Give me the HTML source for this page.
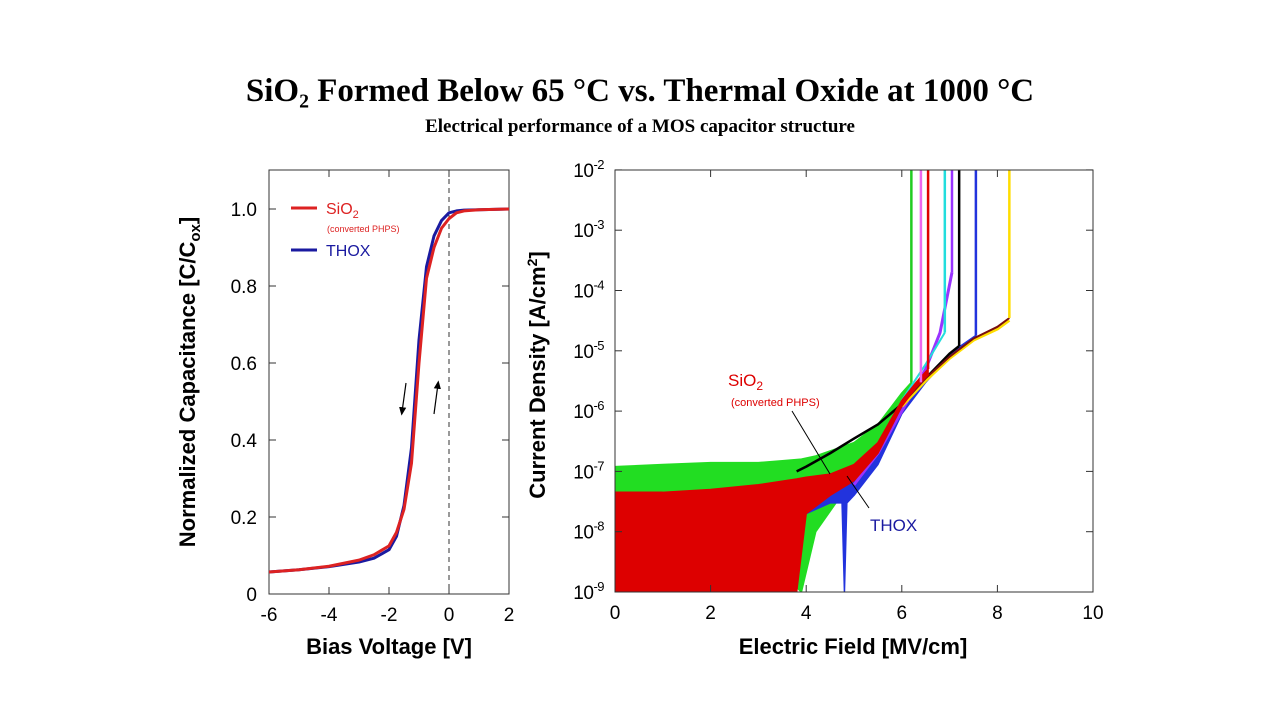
<!DOCTYPE html>
<html><head><meta charset="utf-8"><style>
body{margin:0;background:#fff;width:1280px;height:720px;overflow:hidden}
svg{display:block}
text{font-family:"Liberation Sans",Arial,sans-serif}
.serif{font-family:"Liberation Serif","Times New Roman",serif;font-weight:bold}
</style></head><body>
<svg id="s" width="1280" height="720" viewBox="0 0 1280 720">
<text class="serif" x="640" y="101" font-size="33" text-anchor="middle">SiO₂ Formed Below 65 °C vs. Thermal Oxide at 1000 °C</text>
<text class="serif" x="640" y="132" font-size="19" text-anchor="middle">Electrical performance of a MOS capacitor structure</text>
<g id="L"></g>
<g id="R"></g>
</svg>
<script>
// ---- C-V data ----
const cvVolt=[-6,-5,-4,-3,-2.5,-2,-1.75,-1.5,-1.25,-1,-0.75,-0.5,-0.25,0,0.25,0.5,1,2];
const cvSiO2=[0.057,0.063,0.072,0.088,0.102,0.125,0.16,0.22,0.34,0.6,0.82,0.9,0.95,0.975,0.99,0.995,0.998,1.0];
const cvThox=[0.057,0.063,0.071,0.083,0.093,0.115,0.15,0.23,0.38,0.66,0.85,0.93,0.97,0.99,0.995,0.997,0.998,1.0];
const cvXTicks=[-6,-4,-2,0,2];
const cvYTicks=[0,0.2,0.4,0.6,0.8,1.0];
const cvYLabels=["0","0.2","0.4","0.6","0.8","1.0"];
// ---- J-E data ----
const jeXTicks=[0,2,4,6,8,10];
const jeYExp=[-9,-8,-7,-6,-5,-4,-3,-2];
const greenE=[0,1,2,2.5,3,3.5,3.9,4.2,5,5.5,6,6.2];
const greenHi=[1.2e-7,1.3e-7,1.4e-7,1.4e-7,1.4e-7,1.5e-7,1.6e-7,1.8e-7,3e-7,6e-7,2e-6,3e-6];
const greenLo=[3e-8,3e-8,1e-8,4e-9,2e-9,2e-9,1e-9,1e-8,8e-8,2e-7,1e-6,2e-6];
const blueE=[3.5,4,4.5,4.75,4.8,4.85,5,5.5,6,6.5,7,7.55];
const blueHi=[4e-8,5e-8,6e-8,7e-8,7e-8,7.5e-8,8e-8,2e-7,1.2e-6,3.5e-6,9e-6,1.8e-5];
const blueLo=[2e-8,2e-8,3e-8,3e-8,1e-9,3e-8,4e-8,1.3e-7,9e-7,3e-6,8e-6,1.6e-5];
const redE=[0,1,2,3,3.8,4,4.5,5,5.5,6,6.3,6.55];
const redHi=[4.5e-8,4.5e-8,5e-8,6e-8,7.5e-8,8e-8,9e-8,1.3e-7,3e-7,1.5e-6,3e-6,5e-6];
const redLo=[1e-9,1e-9,1e-9,1e-9,1e-9,2e-8,4e-8,7e-8,2e-7,1.2e-6,2.5e-6,4e-6];
const blackE=[3.8,4,4.5,5,5.5,6,6.5,7,7.2];
const blackJ=[1e-7,1.2e-7,2e-7,3.5e-7,6e-7,1.3e-6,3.5e-6,9e-6,1.2e-5];
const purpleE=[5,5.5,6,6.5,6.8,7.05];
const purpleJ=[6e-8,2e-7,1e-6,5e-6,2e-5,2e-4];
const cyanE=[6,6.5,6.9];
const cyanJ=[1.5e-6,6e-6,2e-5];
const yellowE=[6,6.5,7,7.5,8,8.25];
const yellowJ=[1.2e-6,3.2e-6,7.5e-6,1.5e-5,2.3e-5,3.2e-5];
const brownE=[6,6.5,7,7.5,8,8.25];
const brownJ=[1.3e-6,3.5e-6,8e-6,1.6e-5,2.5e-5,3.5e-5];
const bdColors=["#22cc22","#ee66ee","#dd0000","#22dddd","#9933ff","#000000","#2233dd","#ffdd00"];
const bdField=[6.2,6.4,6.55,6.9,7.05,7.2,7.55,8.25];
const bdStart=[3e-6,3e-6,5e-6,2e-5,2e-4,1.2e-5,1.8e-5,3.5e-5];

const NS="http://www.w3.org/2000/svg";
function mk(p,t,a){const e=document.createElementNS(NS,t);for(const k in a)e.setAttribute(k,a[k]);p.appendChild(e);return e;}

// ---- Left chart ----
const L=document.getElementById('L');
const lx=v=>269+(v+6)*30, ly=c=>594-c*385;
const lf=mk(L,'rect',{x:269,y:170,width:240,height:424,fill:'none',stroke:'#333','stroke-width':1});

cvXTicks.forEach(v=>{
 mk(L,'line',{x1:lx(v),x2:lx(v),y1:594,y2:587,stroke:'#333'});
 mk(L,'line',{x1:lx(v),x2:lx(v),y1:170,y2:177,stroke:'#333'});
 const t=mk(L,'text',{x:lx(v),y:621,'font-size':19,'text-anchor':'middle'});t.textContent=v;
 
});
cvYTicks.forEach((c,i)=>{
 mk(L,'line',{x1:269,x2:276,y1:ly(c),y2:ly(c),stroke:'#333'});
 mk(L,'line',{x1:509,x2:502,y1:ly(c),y2:ly(c),stroke:'#333'});
 const t=mk(L,'text',{x:257,y:ly(c)+7,'font-size':19,'text-anchor':'end'});t.textContent=cvYLabels[i];
 
});
const dz=mk(L,'line',{x1:lx(0),x2:lx(0),y1:170,y2:594,stroke:'#333','stroke-dasharray':'5,4','stroke-width':1});

function pl(p,xs,ys,fx,fy,col,w,name){
 const e=mk(p,'polyline',{points:xs.map((x,i)=>fx(x)+','+fy(ys[i])).join(' '),fill:'none',stroke:col,'stroke-width':w,'stroke-linejoin':'round'});
 return e;}
pl(L,cvVolt,cvThox,lx,ly,'#1a1aa0',3,'thox-cv-curve');
pl(L,cvVolt,cvSiO2,lx,ly,'#dd2222',3,'sio2-cv-curve');
mk(L,'defs',{}).innerHTML='<marker id="ah" markerWidth="8" markerHeight="8" refX="4" refY="4" orient="auto"><path d="M0,1 L7,4 L0,7 z" fill="#000"/></marker>';
const a1=mk(L,'line',{x1:406,y1:383,x2:402,y2:412,stroke:'#000','stroke-width':1.2,'marker-end':'url(#ah)'});

const a2=mk(L,'line',{x1:434,y1:414,x2:438,y2:384,stroke:'#000','stroke-width':1.2,'marker-end':'url(#ah)'});

const lg=mk(L,'g',{});
lg.innerHTML='<line x1="291" x2="317" y1="208" y2="208" stroke="#dd2222" stroke-width="3"/><text x="326" y="214" font-size="16" fill="#dd2222">SiO<tspan font-size="11" dy="4">2</tspan></text><text x="327" y="232" font-size="9" fill="#dd2222">(converted  PHPS)</text><line x1="291" x2="317" y1="250" y2="250" stroke="#1a1aa0" stroke-width="3"/><text x="326" y="256" font-size="16" fill="#1a1aa0">THOX</text>';
const ylt=mk(L,'text',{x:0,y:0,'font-size':22,'font-weight':'bold','text-anchor':'middle',transform:'translate(195,382) rotate(-90)'});
ylt.innerHTML='Normalized Capacitance [C/C<tspan font-size="15" dy="5">ox</tspan><tspan dy="-5">]</tspan>';

const xlt=mk(L,'text',{x:389,y:654,'font-size':22,'font-weight':'bold','text-anchor':'middle'});xlt.textContent='Bias Voltage [V]';


// ---- Right chart ----
const R=document.getElementById('R');
const rx=e=>615+e*47.8, ry=j=>592-(Math.log10(j)+9)*60.3;
const clip=mk(R,'clipPath',{id:'rc'});mk(clip,'rect',{x:615,y:170,width:478,height:422});
const pg=mk(R,'g',{'clip-path':'url(#rc)'});
function band(xs,hi,lo,col,name){
 const pts=xs.map((x,i)=>rx(x)+','+ry(hi[i])).concat(xs.slice().reverse().map((x,i)=>rx(x)+','+ry(lo[xs.length-1-i])));
 const e=mk(pg,'polygon',{points:pts.join(' '),fill:col,stroke:col,'stroke-width':1.5,'stroke-linejoin':'round'});
 }
band(greenE,greenHi,greenLo,'#22dd22','green-sample-band');
band(blueE,blueHi,blueLo,'#2233dd','blue-thox-band');
pl(pg,purpleE,purpleJ,rx,ry,'#9933ff',3,'purple-sample-curve');
pl(pg,cyanE,cyanJ,rx,ry,'#22dddd',2,'cyan-sample-curve');
pl(pg,blackE,blackJ,rx,ry,'#000',2.5,'black-sample-curve');
pl(pg,yellowE,yellowJ,rx,ry,'#ffdd00',3,'yellow-sample-curve');
pl(pg,brownE,brownJ,rx,ry,'#7a1010',2,'brown-sample-curve');
band(redE,redHi,redLo,'#dd0000','red-sio2-band');
bdField.forEach((e,i)=>{
 const l=mk(pg,'line',{x1:rx(e),x2:rx(e),y1:ry(bdStart[i]),y2:ry(1e-2)-2,stroke:bdColors[i],'stroke-width':2.5});
 
});
const rf=mk(R,'rect',{x:615,y:170,width:478,height:422,fill:'none',stroke:'#333'});

jeXTicks.forEach(e=>{
 mk(R,'line',{x1:rx(e),x2:rx(e),y1:592,y2:585,stroke:'#333'});
 mk(R,'line',{x1:rx(e),x2:rx(e),y1:170,y2:177,stroke:'#333'});
 const t=mk(R,'text',{x:rx(e),y:619,'font-size':19,'text-anchor':'middle'});t.textContent=e;
 
});
jeYExp.forEach(p=>{
 const y=ry(Math.pow(10,p));
 mk(R,'line',{x1:615,x2:622,y1:y,y2:y,stroke:'#333'});
 mk(R,'line',{x1:1093,x2:1086,y1:y,y2:y,stroke:'#333'});
 const t=mk(R,'text',{x:604,y:y+7,'font-size':19,'text-anchor':'end','letter-spacing':'-0.5'});
 t.innerHTML='10<tspan font-size="13" dy="-8">'+p+'</tspan>';
 
});
const an=mk(R,'g',{});
an.innerHTML='<text x="728" y="386" font-size="17" fill="#dd0000">SiO<tspan font-size="12" dy="4">2</tspan></text><text x="731" y="406" font-size="11" fill="#dd0000">(converted PHPS)</text><line x1="792" y1="411" x2="830" y2="474" stroke="#000" stroke-width="1"/><text x="870" y="531" font-size="17" fill="#1a1aa0">THOX</text><line x1="847" y1="476" x2="869" y2="508" stroke="#000" stroke-width="1"/>';
const ryt=mk(R,'text',{x:0,y:0,'font-size':22,'font-weight':'bold','text-anchor':'middle',transform:'translate(545,375) rotate(-90)'});
ryt.innerHTML='Current Density [A/cm<tspan font-size="14" dy="-8">2</tspan><tspan dy="8">]</tspan>';

const rxt=mk(R,'text',{x:853,y:654,'font-size':22,'font-weight':'bold','text-anchor':'middle'});rxt.textContent='Electric Field [MV/cm]';

</script>
</body></html>
